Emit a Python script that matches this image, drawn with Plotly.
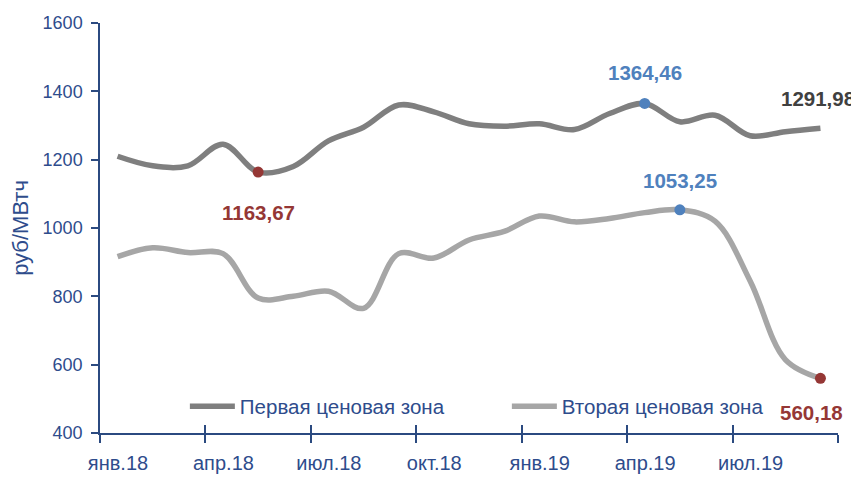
import plotly.graph_objects as go

months = ["янв.18", "фев.18", "мар.18", "апр.18", "май.18", "июн.18", "июл.18",
          "авг.18", "сен.18", "окт.18", "ноя.18", "дек.18", "янв.19", "фев.19",
          "мар.19", "апр.19", "май.19", "июн.19", "июл.19", "авг.19", "сен.19"]
zone1 = [1210, 1182, 1182, 1245, 1163.67, 1180, 1255, 1295, 1360, 1340, 1305,
         1298, 1305, 1288, 1335, 1364.46, 1311, 1330, 1270, 1282, 1291.98]
zone2 = [916, 942, 928, 925, 795, 800, 815, 765, 925, 912, 965,
         990, 1035, 1018, 1028, 1045, 1053.25, 1020, 845, 615, 560.18]
tick_labels = ["янв.18", "апр.18", "июл.18", "окт.18", "янв.19", "апр.19", "июл.19", ""]
series_names = ["Первая ценовая зона", "Вторая ценовая зона"]

# highlighted points: (series, month index, label, color, xshift, yshift)
highlights = [
    (zone1, 4, "1163,67", "#953735", 0, -40),
    (zone1, 15, "1364,46", "#4F81BD", 0, 31),
    (zone1, 20, "1291,98", "#404040", -2, 30),
    (zone2, 16, "1053,25", "#4F81BD", 0, 29),
    (zone2, 20, "560,18", "#953735", -9, -34),
]

AX = "#2B4A80"
TXT = "#2E4C8C"
FONT = "Liberation Sans, Arial, sans-serif"

idx = list(range(len(months)))

fig = go.Figure()
fig.add_trace(go.Scatter(x=idx, y=zone1, name=series_names[0], mode="lines",
                         line=dict(color="#7F7F7F", width=5.5, shape="spline", smoothing=1.0),
                         hovertext=months))
fig.add_trace(go.Scatter(x=idx, y=zone2, name=series_names[1], mode="lines",
                         line=dict(color="#A6A6A6", width=5.5, shape="spline", smoothing=1.0),
                         hovertext=months))

for ser, i, lab, col, xs, ys in highlights:
    show_marker = col != "#404040"
    if show_marker:
        fig.add_trace(go.Scatter(x=[i], y=[ser[i]], mode="markers", xaxis="x2",
                                 marker=dict(color=col, size=11), showlegend=False,
                                 hoverinfo="skip"))
    fig.add_annotation(x=i, y=ser[i], text=f"<b>{lab}</b>", showarrow=False,
                       xshift=xs, yshift=ys,
                       font=dict(family=FONT, size=20.5, color=col))

boundaries = [-0.5 + 3 * k for k in range(7)] + [20.5]
rng = [-0.5, 20.5]

fig.update_layout(
    width=859, height=477,
    margin=dict(l=92, r=29, t=15, b=52, autoexpand=False),
    plot_bgcolor="white", paper_bgcolor="white",
    font=dict(family=FONT, size=17, color=TXT),
    xaxis=dict(range=rng, tickmode="array", tickvals=boundaries, ticktext=tick_labels,
               ticklabelshift=18, ticklabelstandoff=3, ticks="outside", ticklen=8,
               tickcolor=AX, tickwidth=1.5, showline=True, linecolor=AX, linewidth=1.5,
               showgrid=False, zeroline=False, automargin=False,
               tickfont=dict(size=20, color=TXT, family=FONT)),
    xaxis2=dict(range=rng, overlaying="x", tickmode="array", tickvals=boundaries,
                ticktext=[""] * len(boundaries), ticks="inside", ticklen=8,
                tickcolor=AX, tickwidth=1.5, showline=False, showgrid=False,
                zeroline=False, side="bottom", anchor="y", automargin=False),
    yaxis=dict(range=[400, 1600], dtick=200, tick0=400, ticks="outside", ticklen=7,
               tickcolor=AX, tickwidth=1.5, showline=True, linecolor=AX, linewidth=1.5,
               showgrid=False, zeroline=False, automargin=False, ticklabelstandoff=5,
               tickfont=dict(size=18, color=TXT, family=FONT),
               title=dict(text="руб/МВтч", font=dict(size=22, color=TXT, family=FONT),
                          standoff=12)),
    legend=dict(orientation="h", x=0.115, xanchor="left", y=0.065, yanchor="middle",
                bgcolor="rgba(0,0,0,0)", entrywidth=262, itemwidth=45,
                font=dict(size=20.5, color=TXT, family=FONT)),
    showlegend=True,
)

fig.write_html("out.html")
